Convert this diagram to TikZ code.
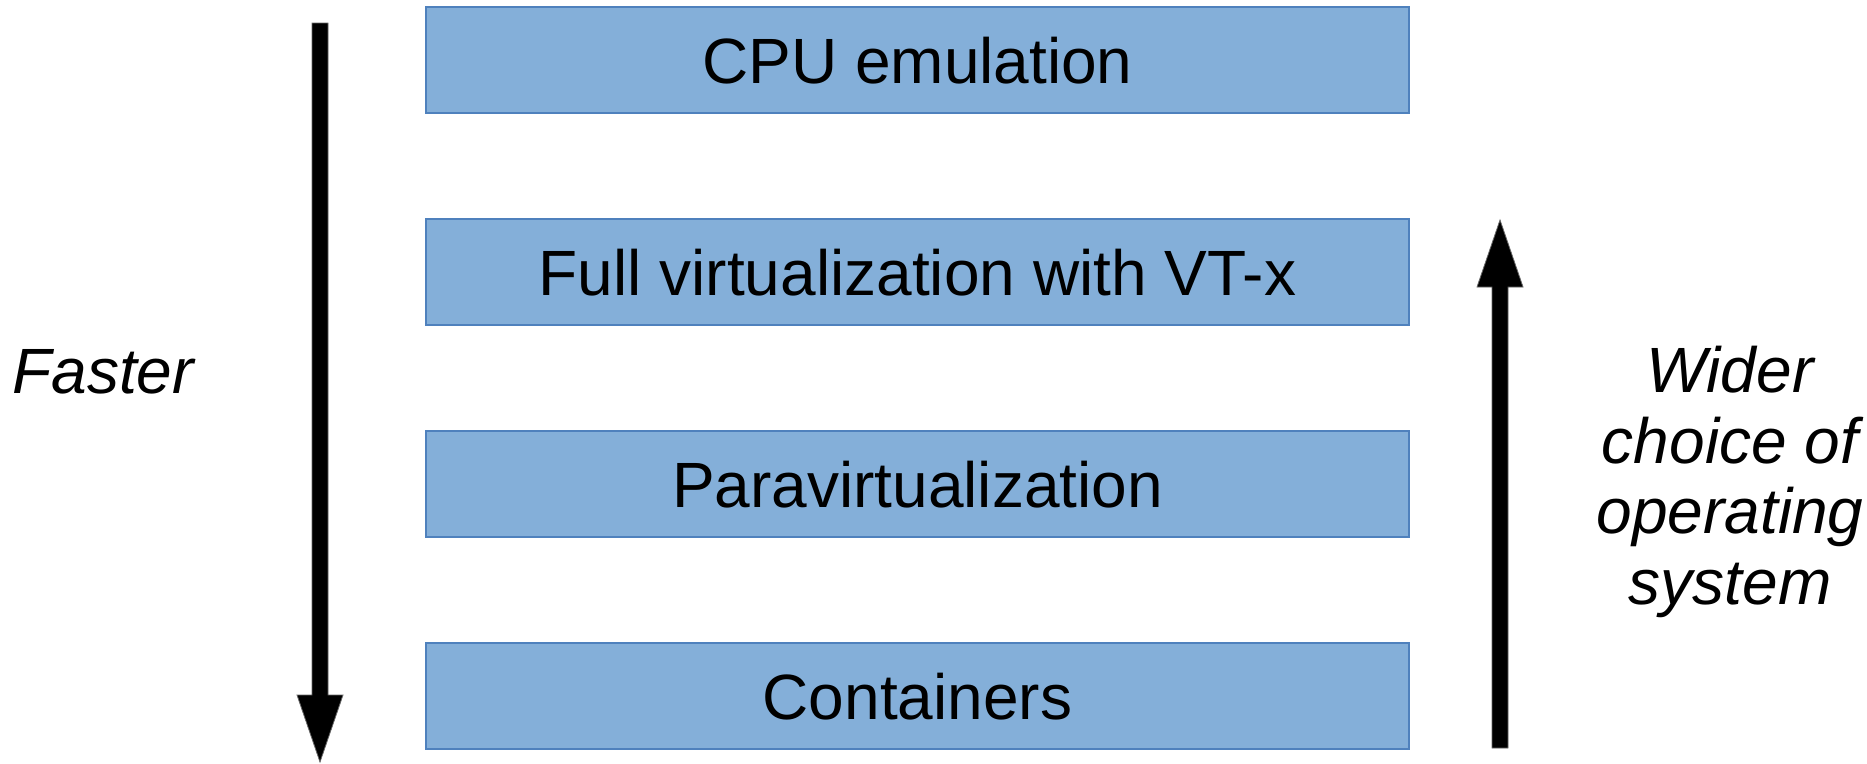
\documentclass[tikz,border=0pt]{standalone}
\usepackage{fontspec}
\setmainfont{Liberation Sans}
\definecolor{boxfill}{HTML}{84AFD9}
\definecolor{boxline}{HTML}{4F81BD}
\tikzset{
  layer/.style={fill=boxfill, draw=boxline, line width=1.3pt},
  layertext/.style={anchor=base, inner sep=0pt, font=\fontsize{64}{70}\selectfont},
  sidetext/.style={inner sep=0pt, font=\fontsize{64}{70.5}\selectfont\itshape},
  fatarrow/.style={fill=black, draw=black!60, line width=0.8pt}
}
\begin{document}
\begin{tikzpicture}[x=1pt,y=-1pt]
\useasboundingbox (0,0) rectangle (1867,763);
% boxes
\path[layer] (426,7) rectangle (1409,113);
\path[layer] (426,219) rectangle (1409,325);
\path[layer] (426,431) rectangle (1409,537);
\path[layer] (426,643) rectangle (1409,749);
\node[layertext] (cpu) at (917.5,83) {CPU emulation};
\node[layertext] (full) at (917.5,295) {Full virtualization with VT-x};
\node[layertext] (para) at (917.5,507) {Paravirtualization};
\node[layertext] (cont) at (917.5,719) {Containers};
% left arrow (down)
\path[fatarrow] (312,23) -- (328,23) -- (328,695) -- (343,695) -- (320,762) -- (297,695) -- (312,695) -- cycle;
% right arrow (up)
\path[fatarrow] (1492,748) -- (1508,748) -- (1508,287) -- (1523,287) -- (1500,220) -- (1477,287) -- (1492,287) -- cycle;
% labels
\node[sidetext, anchor=base] (faster) at (103,393) {Faster};
\node[sidetext, anchor=base, align=center] (wider) at (1730,604) {Wider\\choice of\\operating\\system};
\end{tikzpicture}
\end{document}
